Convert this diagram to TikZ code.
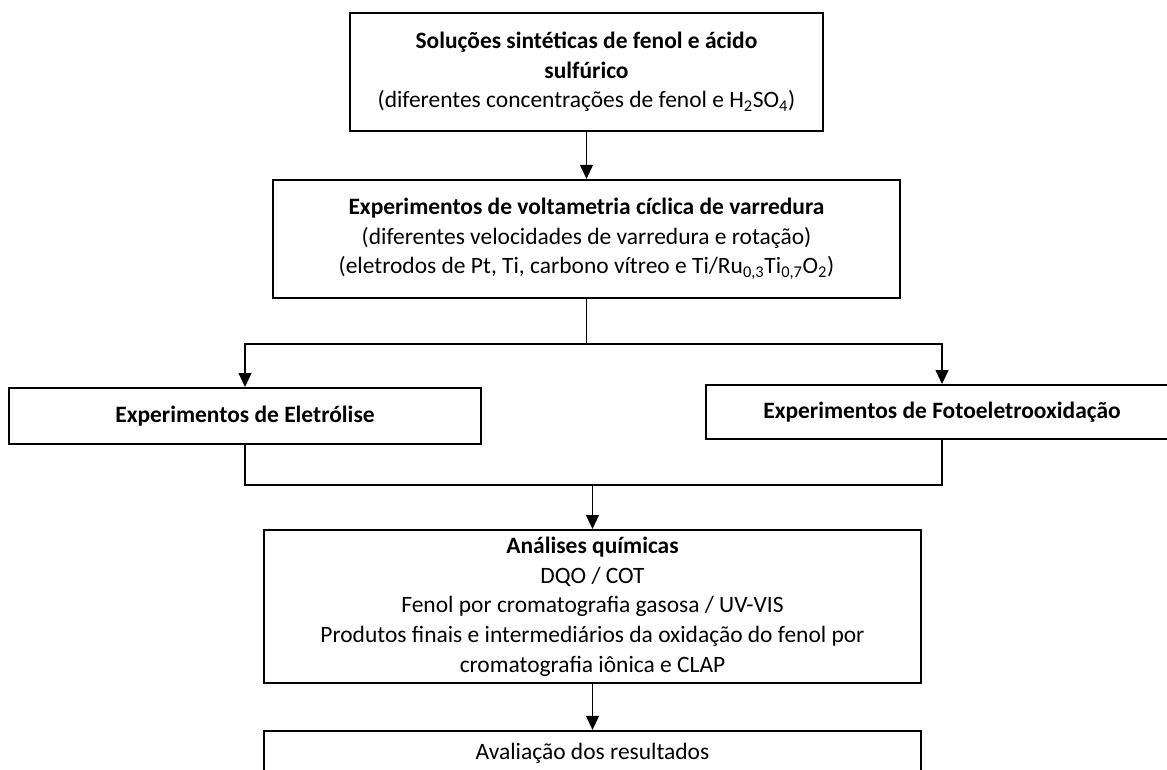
\documentclass[tikz,border=0pt]{standalone}
\usepackage{fontspec}
\setmainfont{Carlito}
\usetikzlibrary{positioning,arrows.meta}

\begin{document}
\begin{tikzpicture}[
    x=0.75pt, y=-0.75pt,
    node distance=35pt,
    box/.style={rectangle, draw, line width=1.4pt, align=center, inner sep=0pt, font=\fontsize{17.6}{22.25}\selectfont},
    arrow/.style={-{Triangle[width=9.5pt,length=10.5pt]}, line width=1.4pt},
    link/.style={line width=1.4pt}
]
\useasboundingbox (0,0) rectangle (1167,769);

% Solutions
\node[box, minimum width=354.75pt, minimum height=88.5pt] (sol) at (586.5,72) {\textbf{Soluções sintéticas de fenol e ácido}\\\textbf{sulfúrico}\\(diferentes concentrações de fenol e H\textsubscript{2}SO\textsubscript{4})};

% Voltammetry
\node[box, minimum width=470.25pt, minimum height=88.5pt, below=35.25pt of sol] (volt) {\textbf{Experimentos de voltametria cíclica de varredura}\\(diferentes velocidades de varredura e rotação)\\(eletrodos de Pt, Ti, carbono vítreo e Ti/Ru\textsubscript{0,3}Ti\textsubscript{0,7}O\textsubscript{2})};

% Electrolysis and photoelectrooxidation
\node[box, minimum width=354pt, minimum height=42pt] (ele) at (245,416) {\textbf{Experimentos de Eletrólise}};
\node[box, minimum width=354pt, minimum height=40.5pt] (foto) at (942,412) {\textbf{Experimentos de Fotoeletrooxidação}};

% Chemical analyses
\node[box, minimum width=492.75pt, minimum height=114.75pt] (ana) at (592.5,606.5) {\textbf{Análises químicas}\\DQO / COT\\Fenol por cromatografia gasosa / UV-VIS\\Produtos finais e intermediários da oxidação do fenol por\\cromatografia iônica e CLAP};

% Evaluation
\node[box, minimum width=492.75pt, minimum height=33pt, below=34.5pt of ana] (aval) {Avaliação dos resultados};

% Branch points
\coordinate[below=33.75pt of volt] (split);
\coordinate[above=33pt of ana] (join);

% Arrows
\draw[arrow] (sol) -- (volt);
\draw[link] (volt) -- (split);
\draw[arrow] (split) -| (ele);
\draw[arrow] (split) -| (foto);
\draw[link] (ele) |- (join);
\draw[link] (foto) |- (join);
\draw[arrow] (join) -- (ana);
\draw[arrow] (ana) -- (aval);

\end{tikzpicture}
\end{document}
